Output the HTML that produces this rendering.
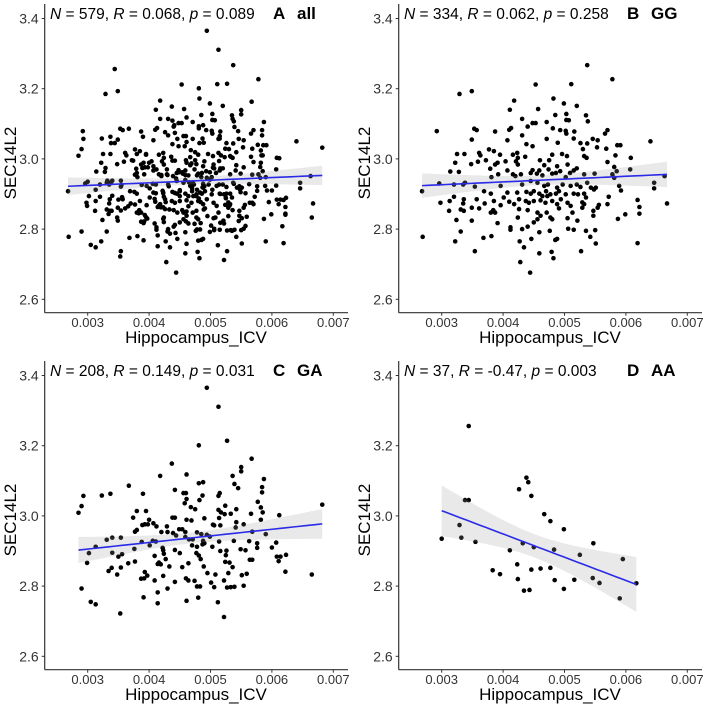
<!DOCTYPE html>
<html><head><meta charset="utf-8"><style>
html,body{margin:0;padding:0;background:#fff;}
svg{display:block;font-family:"Liberation Sans",Arial,sans-serif;}
</style></head><body>
<svg id="chart" width="708" height="710" viewBox="0 0 708 710" xmlns="http://www.w3.org/2000/svg"></svg>
<script>
// ---- data: GG genotype (Hippocampus_ICV, SEC14L2) ----
const ggX = [0.00537,0.00578,0.00329,0.00349,0.00453,0.00511,0.00418,0.00482,0.00411,0.00457,0.00499,0.00520,0.00431,0.00448,0.00453,0.00471,0.00485,0.00503,0.00503,0.00507,0.00535,0.00538,0.00292,0.00353,0.00357,0.00387,0.00410,0.00413,0.00440,0.00481,0.00493,0.00502,0.00516,0.00349,0.00407,0.00431,0.00471,0.00489,0.00503,0.00515,0.00526,0.00537,0.00546,0.00554,0.00566,0.00570,0.00586,0.00591,0.00640,0.00438,0.00448,0.00377,0.00385,0.00395,0.00361,0.00363,0.00325,0.00337,0.00416,0.00423,0.00424,0.00436,0.00480,0.00496,0.00504,0.00530,0.00532,0.00536,0.00553,0.00568,0.00583,0.00608,0.00322,0.00348,0.00359,0.00372,0.00387,0.00391,0.00404,0.00421,0.00424,0.00460,0.00475,0.00467,0.00488,0.00505,0.00515,0.00520,0.00570,0.00581,0.00585,0.00607,0.00314,0.00328,0.00379,0.00381,0.00392,0.00407,0.00416,0.00420,0.00429,0.00445,0.00448,0.00455,0.00459,0.00464,0.00474,0.00480,0.00486,0.00493,0.00502,0.00509,0.00532,0.00549,0.00578,0.00581,0.00268,0.00296,0.00320,0.00335,0.00338,0.00354,0.00396,0.00431,0.00445,0.00456,0.00467,0.00470,0.00473,0.00488,0.00497,0.00510,0.00520,0.00526,0.00537,0.00543,0.00548,0.00551,0.00589,0.00592,0.00646,0.00646,0.00663,0.00369,0.00380,0.00407,0.00423,0.00438,0.00445,0.00450,0.00459,0.00464,0.00472,0.00477,0.00486,0.00491,0.00502,0.00515,0.00522,0.00532,0.00535,0.00572,0.00320,0.00336,0.00298,0.00313,0.00335,0.00357,0.00370,0.00385,0.00401,0.00410,0.00418,0.00426,0.00437,0.00442,0.00450,0.00461,0.00469,0.00480,0.00488,0.00494,0.00505,0.00510,0.00529,0.00532,0.00556,0.00570,0.00619,0.00622,0.00667,0.00312,0.00331,0.00336,0.00349,0.00361,0.00384,0.00387,0.00396,0.00380,0.00426,0.00440,0.00456,0.00471,0.00491,0.00513,0.00529,0.00547,0.00554,0.00622,0.00324,0.00349,0.00391,0.00424,0.00456,0.00461,0.00450,0.00477,0.00480,0.00505,0.00521,0.00547,0.00587,0.00599,0.00331,0.00412,0.00412,0.00431,0.00440,0.00459,0.00476,0.00506,0.00515,0.00535,0.00550,0.00269,0.00322,0.00368,0.00381,0.00427,0.00446,0.00485,0.00488,0.00434,0.00542,0.00551,0.00619,0.00354,0.00459,0.00479,0.00527,0.00482,0.00428,0.00444];
const ggY = [3.267,3.227,3.185,3.193,3.212,3.213,3.166,3.172,3.140,3.142,3.158,3.151,3.114,3.102,3.102,3.105,3.125,3.128,3.111,3.110,3.124,3.107,3.079,3.086,3.082,3.078,3.083,3.088,3.092,3.087,3.082,3.080,3.078,3.055,3.053,3.067,3.057,3.046,3.072,3.058,3.045,3.044,3.057,3.053,3.072,3.082,3.039,3.039,3.050,3.042,3.036,3.027,3.022,3.012,3.017,3.010,3.014,3.014,3.012,3.017,3.003,3.006,3.012,3.014,3.008,3.028,3.008,3.003,3.033,3.029,3.010,3.003,2.989,2.985,2.992,2.996,2.984,2.989,2.993,2.993,2.984,2.996,2.996,2.982,2.979,2.984,2.967,2.973,2.991,2.977,2.965,2.970,2.964,2.963,2.972,2.948,2.956,2.967,2.956,2.951,2.956,2.960,2.968,2.958,2.967,2.953,2.970,2.958,2.960,2.965,2.948,2.960,2.956,2.958,2.956,2.946,2.908,2.930,2.927,2.927,2.932,2.921,2.923,2.927,2.937,2.932,2.923,2.908,2.927,2.918,2.927,2.923,2.927,2.920,2.932,2.918,2.913,2.918,2.923,2.910,2.932,2.916,2.951,2.908,2.901,2.904,2.904,2.906,2.901,2.908,2.901,2.894,2.894,2.899,2.901,2.908,2.899,2.901,2.899,2.901,2.890,2.892,2.892,2.885,2.875,2.880,2.873,2.885,2.873,2.880,2.890,2.878,2.871,2.885,2.880,2.875,2.880,2.882,2.875,2.880,2.871,2.885,2.875,2.866,2.876,2.871,2.869,2.871,2.883,2.863,2.873,2.852,2.856,2.852,2.861,2.859,2.854,2.847,2.868,2.847,2.857,2.854,2.847,2.847,2.859,2.847,2.861,2.852,2.861,2.844,2.826,2.824,2.817,2.833,2.828,2.838,2.819,2.833,2.828,2.831,2.824,2.838,2.829,2.842,2.793,2.805,2.798,2.800,2.807,2.791,2.795,2.801,2.798,2.795,2.797,2.778,2.765,2.775,2.780,2.765,2.772,2.769,2.772,2.748,2.778,2.759,2.760,2.737,2.731,2.735,2.737,2.717,2.706,2.676];
// ---- data: GA genotype ----
const gaX = [0.00494,0.00513,0.00527,0.00481,0.00567,0.00437,0.00550,0.00550,0.00418,0.00461,0.00536,0.00587,0.00488,0.00481,0.00539,0.00367,0.00545,0.00584,0.00584,0.00442,0.00390,0.00456,0.00460,0.00515,0.00513,0.00487,0.00293,0.00323,0.00337,0.00461,0.00482,0.00458,0.00290,0.00468,0.00475,0.00524,0.00513,0.00517,0.00542,0.00577,0.00582,0.00585,0.00380,0.00395,0.00285,0.00523,0.00533,0.00566,0.00612,0.00682,0.00374,0.00438,0.00442,0.00461,0.00469,0.00490,0.00514,0.00542,0.00582,0.00400,0.00407,0.00389,0.00393,0.00398,0.00412,0.00429,0.00449,0.00454,0.00504,0.00506,0.00516,0.00554,0.00380,0.00377,0.00420,0.00430,0.00439,0.00444,0.00459,0.00459,0.00478,0.00485,0.00494,0.00499,0.00541,0.00568,0.00590,0.00331,0.00340,0.00354,0.00388,0.00401,0.00406,0.00411,0.00465,0.00471,0.00488,0.00490,0.00487,0.00514,0.00538,0.00563,0.00576,0.00607,0.00313,0.00422,0.00423,0.00442,0.00470,0.00478,0.00503,0.00549,0.00557,0.00576,0.00600,0.00302,0.00340,0.00356,0.00350,0.00376,0.00409,0.00424,0.00450,0.00477,0.00481,0.00516,0.00526,0.00525,0.00608,0.00614,0.00623,0.00611,0.00299,0.00366,0.00377,0.00427,0.00416,0.00414,0.00419,0.00433,0.00464,0.00484,0.00524,0.00531,0.00536,0.00564,0.00568,0.00354,0.00339,0.00334,0.00348,0.00454,0.00489,0.00495,0.00508,0.00529,0.00551,0.00559,0.00622,0.00665,0.00387,0.00393,0.00397,0.00392,0.00409,0.00423,0.00442,0.00460,0.00464,0.00474,0.00478,0.00483,0.00501,0.00506,0.00522,0.00527,0.00533,0.00539,0.00554,0.00290,0.00430,0.00414,0.00391,0.00305,0.00313,0.00414,0.00461,0.00480,0.00512,0.00353,0.00522];
const gaY = [3.365,3.311,3.214,3.201,3.163,3.149,3.139,3.127,3.114,3.118,3.114,3.105,3.096,3.093,3.091,3.086,3.079,3.082,3.067,3.074,3.063,3.065,3.065,3.065,3.057,3.058,3.057,3.058,3.063,3.048,3.045,3.036,3.028,3.025,3.019,3.029,3.017,3.010,3.019,3.040,3.024,3.010,3.014,3.014,3.009,3.005,3.006,3.006,3.002,3.032,2.995,2.995,2.995,2.989,2.987,2.993,2.994,2.982,2.989,2.989,2.979,2.974,2.976,2.976,2.970,2.970,2.962,2.962,2.975,2.973,2.973,2.976,2.960,2.955,2.954,2.954,2.951,2.944,2.954,2.940,2.953,2.948,2.946,2.941,2.967,2.955,2.948,2.932,2.938,2.938,2.926,2.916,2.929,2.927,2.933,2.933,2.929,2.922,2.919,2.927,2.929,2.928,2.922,2.924,2.912,2.909,2.902,2.903,2.916,2.912,2.912,2.905,2.902,2.909,2.910,2.894,2.895,2.891,2.884,2.906,2.886,2.892,2.894,2.894,2.887,2.900,2.901,2.888,2.884,2.884,2.889,2.871,2.866,2.865,2.870,2.877,2.867,2.863,2.862,2.856,2.865,2.877,2.869,2.867,2.854,2.875,2.875,2.853,2.852,2.843,2.833,2.854,2.856,2.837,2.833,2.837,2.831,2.835,2.841,2.833,2.821,2.840,2.830,2.822,2.816,2.829,2.812,2.822,2.816,2.815,2.799,2.799,2.810,2.797,2.816,2.796,2.797,2.798,2.801,2.793,2.793,2.782,2.768,2.755,2.748,2.751,2.758,2.767,2.754,2.722,2.712];
// ---- data: AA genotype ----
const aaX = [0.00300,0.00329,0.00332,0.00338,0.00344,0.00344,0.00355,0.00383,0.00395,0.00411,0.00423,0.00424,0.00426,0.00432,0.00434,0.00438,0.00441,0.00443,0.00446,0.00446,0.00450,0.00461,0.00467,0.00477,0.00477,0.00483,0.00484,0.00499,0.00499,0.00516,0.00525,0.00547,0.00546,0.00557,0.00590,0.00595,0.00617];
const aaY = [2.935,2.974,2.938,3.045,3.045,3.256,2.926,2.845,2.834,2.902,2.862,2.820,3.076,2.922,2.787,3.109,3.096,2.789,3.057,2.847,2.911,2.850,3.005,2.985,2.852,2.904,2.817,2.962,2.792,2.818,2.889,2.922,2.823,2.809,2.765,2.877,2.808];
// ---- axis ticks ----
const xTicks = [0.003,0.004,0.005,0.006,0.007];
const xTickLabels = ["0.003","0.004","0.005","0.006","0.007"];
const yTicks = [2.6,2.8,3.0,3.2,3.4];
const yTickLabels = ["2.6","2.8","3.0","3.2","3.4"];
const panelStats = ["N = 579, R = 0.068, p = 0.089","N = 334, R = 0.062, p = 0.258","N = 208, R = 0.149, p = 0.031","N = 37, R = -0.47, p = 0.003"];

const NS = "http://www.w3.org/2000/svg";
const svg = document.getElementById('chart');
function mk(tag, attrs, parent){
  const e = document.createElementNS(NS, tag);
  for (const k in attrs) e.setAttribute(k, attrs[k]);
  (parent||svg).appendChild(e);
  return e;
}
const allX = ggX.concat(gaX, aaX);
const allY = ggY.concat(gaY, aaY);

const panels = [
  {ox:0, oy:0, xs:allX, ys:allY, stat:panelStats[0], letter:"A", group:"all", id:"all"},
  {ox:354, oy:0, xs:ggX, ys:ggY, stat:panelStats[1], letter:"B", group:"GG", id:"gg"},
  {ox:0, oy:357, xs:gaX, ys:gaY, stat:panelStats[2], letter:"C", group:"GA", id:"ga"},
  {ox:354, oy:357, xs:aaX, ys:aaY, stat:panelStats[3], letter:"D", group:"AA", id:"aa"}
];

panels.forEach(p => {
  const g = mk('g', {transform:`translate(${p.ox},${p.oy})`});
  
  
  const sx = v => 87.7 + (v - 0.003) * 61400;
  const sy = v => 18.5 + (3.4 - v) * 351;
  const left = 44.7, bottom = 312.7, right = 348, top = 4;

  const pg = mk('g', {}, g);
  
  
  for (let i = 0; i < p.xs.length; i++) {
    const c = mk('circle', {cx:sx(p.xs[i]).toFixed(2), cy:sy(p.ys[i]).toFixed(2), r:2.3, fill:'#000'}, pg);
    
    
  }

  const n = p.xs.length;
  let mx = 0, my = 0;
  for (let i = 0; i < n; i++) { mx += p.xs[i]; my += p.ys[i]; }
  mx /= n; my /= n;
  let sxx = 0, sxy = 0;
  for (let i = 0; i < n; i++) { sxx += (p.xs[i]-mx)**2; sxy += (p.xs[i]-mx)*(p.ys[i]-my); }
  const b = sxy / sxx, a = my - b * mx;
  let sse = 0;
  for (let i = 0; i < n; i++) sse += (p.ys[i] - a - b*p.xs[i])**2;
  const s = Math.sqrt(sse / (n - 2));
  const t = n < 60 ? 2.03 : 1.97;
  const xmin = Math.min(...p.xs), xmax = Math.max(...p.xs);
  const up = [], lo = [], ln = [];
  for (let k = 0; k <= 40; k++) {
    const xv = xmin + (xmax - xmin) * k / 40;
    const yv = a + b * xv;
    const se = s * Math.sqrt(1/n + (xv-mx)**2 / sxx);
    up.push(`${sx(xv).toFixed(2)},${sy(yv + t*se).toFixed(2)}`);
    lo.push(`${sx(xv).toFixed(2)},${sy(yv - t*se).toFixed(2)}`);
    ln.push(`${sx(xv).toFixed(2)},${sy(yv).toFixed(2)}`);
  }
  const band = mk('polygon', {points: up.concat(lo.reverse()).join(' '), fill:'rgba(153,153,153,0.22)', stroke:'none'}, g);
  
  
  const line = mk('polyline', {points: ln.join(' '), fill:'none', stroke:'#2a2ae8', 'stroke-width':1.6}, g);
  
  

  const ya = mk('line', {x1:left, y1:top, x2:left, y2:bottom, stroke:'#333', 'stroke-width':1.2}, g);
  
  
  const xa = mk('line', {x1:left, y1:bottom, x2:right, y2:bottom, stroke:'#333', 'stroke-width':1.2}, g);
  
  

  xTicks.forEach((v, i) => {
    const x = sx(v);
    const tk = mk('line', {x1:x, y1:bottom, x2:x, y2:bottom+3, stroke:'#333', 'stroke-width':1}, g);
    
    
    const tl = mk('text', {x:x, y:bottom+14.5, 'text-anchor':'middle', 'font-size':13, fill:'#333'}, g);
    tl.textContent = xTickLabels[i];
    
    
  });
  yTicks.forEach((v, i) => {
    const y = sy(v);
    const tk = mk('line', {x1:left-3, y1:y, x2:left, y2:y, stroke:'#333', 'stroke-width':1}, g);
    
    
    const tl = mk('text', {x:left-6, y:y+5, 'text-anchor':'end', 'font-size':14, fill:'#333'}, g);
    tl.textContent = yTickLabels[i];
    
    
  });

  const xt = mk('text', {x:196, y:343, 'text-anchor':'middle', 'font-size':17, fill:'#000'}, g);
  xt.textContent = 'Hippocampus_ICV';
  
  
  const yt = mk('text', {x:0, y:0, 'text-anchor':'middle', 'font-size':17, fill:'#000', transform:'translate(16,163) rotate(-90)'}, g);
  yt.textContent = 'SEC14L2';
  
  

  const st = mk('text', {x:50, y:19, 'font-size':15.5, fill:'#000'}, g);
  
  
  p.stat.split(/(N|R|p)(?= =)/).forEach(part => {
    if (!part) return;
    const ts = mk('tspan', {}, st);
    if (part === 'N' || part === 'R' || part === 'p') ts.setAttribute('font-style', 'italic');
    ts.textContent = part;
  });
  const lt = mk('text', {x:273, y:19, 'font-size':17, 'font-weight':'bold', fill:'#000'}, g);
  lt.textContent = p.letter;
  
  
  const gt = mk('text', {x:297, y:19, 'font-size':17, 'font-weight':'bold', fill:'#000'}, g);
  gt.textContent = p.group;
  
  
});
</script>
</body></html>
